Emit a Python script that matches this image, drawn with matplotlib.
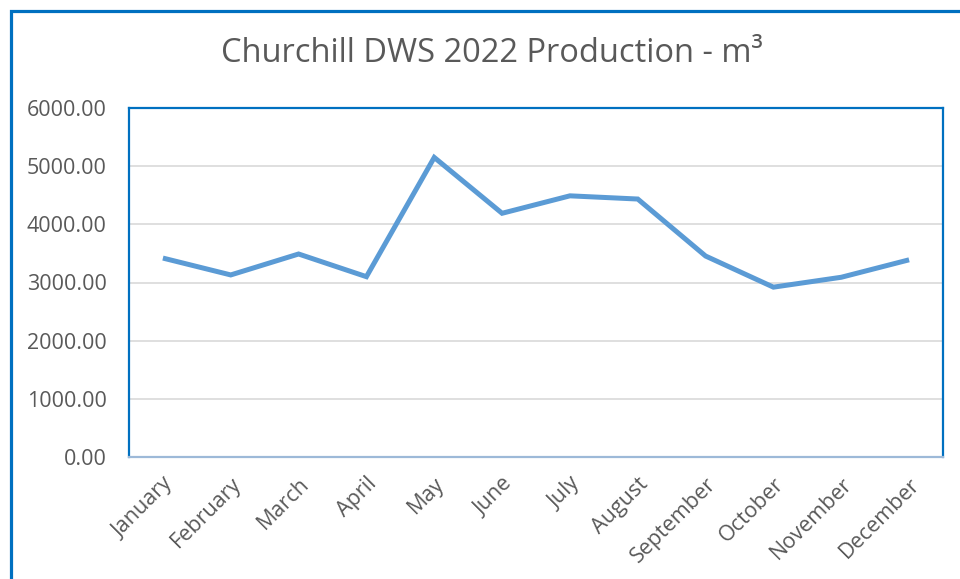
import matplotlib.pyplot as plt
from matplotlib.patches import Rectangle
from matplotlib.transforms import ScaledTranslation

months = ["January", "February", "March", "April", "May", "June",
          "July", "August", "September", "October", "November", "December"]
production = [3420, 3130, 3490, 3100, 5150, 4190,
              4490, 4435, 3455, 2920, 3090, 3390]
y_ticks = [0, 1000, 2000, 3000, 4000, 5000, 6000]

TEXT = "#595959"
BLUE = "#0070C0"
LINE = "#5B9BD5"

plt.rcParams["font.family"] = ["Open Sans", "DejaVu Sans"]

fig = plt.figure(figsize=(9.6, 5.79), dpi=100)
ax = fig.add_axes([129 / 960, 122 / 579, 814 / 960, 349 / 579])

# outer chart frame (cut off on right and bottom in the reference)
fig.patches.append(Rectangle((11 / 960, -0.1), 2.0, 568 / 579 + 0.1,
                             transform=fig.transFigure, fill=False,
                             edgecolor=BLUE, linewidth=2.3))

x = list(range(len(months)))
ax.plot(x, production, color=LINE, linewidth=3.6, solid_joinstyle="miter",
        solid_capstyle="butt", zorder=3)

ax.set_xlim(-0.5, len(months) - 0.5)
ax.set_ylim(0, 6000)
ax.set_yticks(y_ticks)
ax.set_yticklabels([f"{v:.2f}" for v in y_ticks])
ax.set_xticks(x)
ax.set_xticklabels(months, rotation=45, ha="right", va="top",
                   rotation_mode="anchor")

# nudge month labels slightly left, like the reference
shift = ScaledTranslation(-5 / 100, 0, fig.dpi_scale_trans)
for lbl in ax.get_xticklabels():
    lbl.set_transform(lbl.get_transform() + shift)

ax.grid(axis="y", color="#D9D9D9", linewidth=1.2)
ax.set_axisbelow(True)
ax.tick_params(axis="both", length=0, colors=TEXT, labelsize=15.5)
ax.tick_params(axis="y", pad=16)
ax.tick_params(axis="x", pad=12)

for side in ("top", "left", "right"):
    ax.spines[side].set_color(BLUE)
    ax.spines[side].set_linewidth(1.6)
ax.spines["bottom"].set_color("#9DB9D8")
ax.spines["bottom"].set_linewidth(1.6)

fig.text(492 / 960, 1 - 53 / 579, "Churchill DWS 2022 Production - m³",
         ha="center", va="center", fontsize=23.5, color=TEXT)

fig.savefig("out.png", dpi=100)
plt.close(fig)
